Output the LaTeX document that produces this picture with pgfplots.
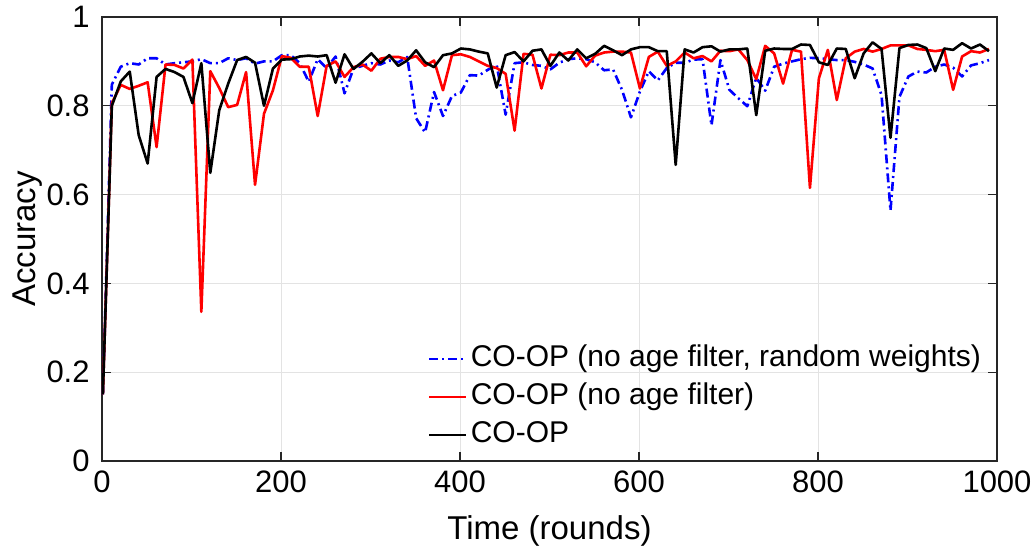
\documentclass[border=0pt]{standalone}
\usepackage{fontspec}
\setmainfont{Liberation Sans}
\usepackage{pgfplots}
\usepackage{pgfplotstable}
\pgfplotsset{compat=1.18}

% accuracy per round
\pgfplotstableread{
x blue red black
1 0.150 0.150 0.150
11 0.848 0.806 0.800
21 0.888 0.847 0.855
31 0.896 0.838 0.877
41 0.893 0.845 0.734
51 0.907 0.853 0.670
61 0.907 0.707 0.865
71 0.893 0.893 0.883
81 0.896 0.892 0.876
91 0.898 0.884 0.865
101 0.900 0.904 0.806
111 0.905 0.336 0.896
121 0.896 0.878 0.649
131 0.896 0.840 0.790
141 0.907 0.797 0.850
151 0.903 0.802 0.903
161 0.907 0.876 0.910
171 0.895 0.622 0.897
181 0.900 0.782 0.800
191 0.900 0.835 0.884
201 0.914 0.912 0.904
211 0.914 0.908 0.905
221 0.896 0.888 0.911
231 0.854 0.888 0.913
241 0.905 0.777 0.911
251 0.885 0.890 0.914
261 0.911 0.900 0.852
271 0.828 0.865 0.916
281 0.884 0.887 0.883
291 0.890 0.893 0.899
301 0.896 0.879 0.918
311 0.893 0.906 0.896
321 0.902 0.910 0.914
331 0.898 0.910 0.890
341 0.910 0.905 0.902
351 0.772 0.912 0.925
361 0.740 0.890 0.898
371 0.831 0.902 0.887
381 0.777 0.835 0.914
391 0.822 0.914 0.918
401 0.830 0.916 0.929
411 0.869 0.910 0.927
421 0.868 0.900 0.922
431 0.881 0.890 0.918
441 0.892 0.885 0.841
451 0.780 0.872 0.914
461 0.896 0.744 0.921
471 0.898 0.917 0.900
481 0.892 0.915 0.924
491 0.890 0.839 0.927
501 0.882 0.915 0.890
511 0.897 0.914 0.920
521 0.905 0.920 0.902
531 0.907 0.920 0.927
541 0.905 0.889 0.907
551 0.898 0.913 0.917
561 0.880 0.920 0.935
571 0.882 0.922 0.925
581 0.836 0.922 0.914
591 0.774 0.920 0.927
601 0.832 0.839 0.932
611 0.878 0.910 0.932
621 0.857 0.922 0.923
631 0.885 0.890 0.923
641 0.897 0.900 0.667
651 0.897 0.920 0.927
661 0.904 0.907 0.920
671 0.905 0.912 0.932
681 0.756 0.900 0.934
691 0.903 0.924 0.922
701 0.836 0.923 0.927
711 0.817 0.927 0.927
721 0.799 0.903 0.929
731 0.863 0.860 0.779
741 0.834 0.935 0.924
751 0.888 0.918 0.929
761 0.895 0.850 0.928
771 0.900 0.926 0.928
781 0.905 0.922 0.938
791 0.908 0.615 0.937
801 0.907 0.862 0.898
811 0.905 0.926 0.892
821 0.903 0.813 0.929
831 0.903 0.907 0.928
841 0.899 0.922 0.862
851 0.893 0.928 0.918
861 0.884 0.922 0.943
871 0.824 0.928 0.928
881 0.564 0.936 0.728
891 0.820 0.936 0.930
901 0.866 0.936 0.937
911 0.877 0.928 0.938
921 0.875 0.926 0.930
931 0.888 0.923 0.878
941 0.893 0.926 0.929
951 0.886 0.836 0.926
961 0.866 0.911 0.941
971 0.891 0.923 0.929
981 0.896 0.920 0.938
991 0.903 0.928 0.923
}\acc

\begin{document}
\begin{tikzpicture}
\begin{axis}[
  scale only axis,
  width=447.5pt, height=222pt,
  xmin=0, xmax=1000, ymin=0, ymax=1,
  xtick={0,200,400,600,800,1000},
  ytick={0,0.2,0.4,0.6,0.8,1},
  scaled ticks=false,
  /pgf/number format/1000 sep={},
  /pgf/number format/assume math mode=true,
  ticklabel style={font=\fontsize{15.5}{18}\selectfont},
  xticklabel style={anchor=base, inner sep=0pt, yshift=-16pt},
  yticklabel style={anchor=east, inner sep=0pt, xshift=-6pt},
  tick align=inside,
  major tick length=4.5pt,
  tick style={black!85, line width=0.6pt},
  axis line style={black!85, line width=0.6pt},
  grid=major,
  grid style={gray!22, line width=0.5pt},
  xlabel={Time (rounds)},
  ylabel={Accuracy},
  label style={font=\fontsize{16.5}{20}\selectfont},
  xlabel style={at={(axis description cs:0.5,0)}, anchor=base, yshift=-39.5pt},
  ylabel style={at={(axis description cs:0,0.5)}, anchor=center, yshift=37pt},
  legend style={draw=none, fill=none, at={(rel axis cs:0.364,0.273)}, anchor=north west,
    font=\fontsize{15}{18}\selectfont, inner sep=0pt, row sep=0pt,
    nodes={inner xsep=1.5pt, inner ysep=0pt, text height=13pt, text depth=6pt}},
  legend cell align=left,
  legend image code/.code={\draw[#1] (0pt,0pt) -- (18.5pt,0pt);},
  every axis plot/.append style={line width=1.3pt, line join=round},
]
\addplot[blue, dash pattern=on 4.5pt off 2pt on 1pt off 2pt] table[x=x, y=blue] {\acc};
\addlegendentry{CO-OP (no age filter, random weights)}
\addplot[red] table[x=x, y=red] {\acc};
\addlegendentry{CO-OP (no age filter)}
\addplot[black] table[x=x, y=black] {\acc};
\addlegendentry{CO-OP}
\end{axis}
\pgfresetboundingbox
\path (-51pt,-44.5pt) rectangle (466pt,230.5pt);
\end{tikzpicture}
\end{document}
